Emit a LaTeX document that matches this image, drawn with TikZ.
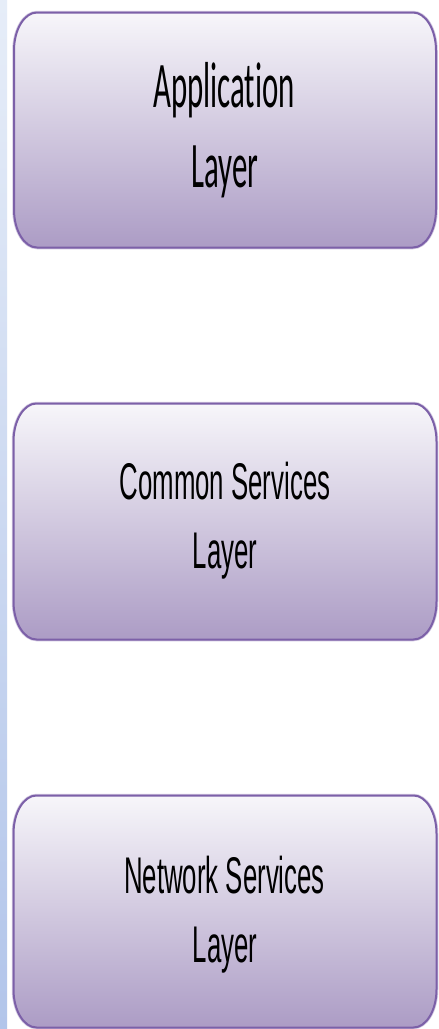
\documentclass[tikz,border=0pt]{standalone}
\usepackage{fontspec}
\setmainfont{Liberation Sans}
\newfontfamily\calfont[Ligatures={NoCommon,NoContextual}]{Carlito}
\definecolor{boxtop}{HTML}{F7F6FA}
\definecolor{boxbot}{HTML}{AC9CC5}
\definecolor{boxline}{HTML}{7C60A8}
\definecolor{striptop}{HTML}{E6EDF8}
\definecolor{stripbot}{HTML}{B2C5EA}
\tikzset{
  layerbox/.style={draw=none, inner sep=0pt, outer sep=0pt},
  boxfill/.style={top color=boxtop, bottom color=boxbot, draw=boxline, line width=2pt},
  boxshadow/.style={draw=boxline!35, line width=3.5pt},
  lineA/.style={inner sep=0pt, anchor=base, xscale=0.475, font=\calfont\fontsize{65}{80}\selectfont},
  lineB/.style={inner sep=0pt, anchor=base, xscale=0.5, font=\fontsize{51.6}{69}\selectfont}
}
\newcommand{\boxpath}[1]{%
  ([xshift=23pt]#1.north west) -- ([xshift=-23pt]#1.north east)
  arc[start angle=90, end angle=0, x radius=23pt, y radius=38pt]
  -- ([yshift=38pt]#1.south east)
  arc[start angle=0, end angle=-90, x radius=23pt, y radius=38pt]
  -- ([xshift=23pt]#1.south west)
  arc[start angle=270, end angle=180, x radius=23pt, y radius=38pt]
  -- ([yshift=-38pt]#1.north west)
  arc[start angle=180, end angle=90, x radius=23pt, y radius=38pt] -- cycle}
\begin{document}
\begin{tikzpicture}[x=1pt, y=1pt]
\useasboundingbox (0,0) rectangle (439,-1029);
\fill[white] (0,0) rectangle (439,-1029);
% left strip
\shade[top color=striptop, bottom color=stripbot] (0,0) rectangle (7,-1029);
% boxes (geometry nodes)
\node[layerbox, minimum width=422pt, minimum height=235pt] (b1) at (225,-130) {};
\node[layerbox, minimum width=423pt, minimum height=236pt] (b2) at (225,-521.5) {};
\node[layerbox, minimum width=423pt, minimum height=232pt] (b3) at (225,-911.5) {};
\foreach \b in {b1,b2,b3}{
  \draw[boxshadow] \boxpath{\b};
  \path[boxfill] \boxpath{\b};
}
% texts
\node[lineA] (t1a) at (224,-107) {Application};
\node[lineA] (t1b) at (225,-187) {Layer};
\node[lineB] (t2a) at (225,-499) {Common Services};
\node[lineB] (t2b) at (225,-568) {Layer};
\node[lineB] (t3a) at (224.5,-893) {Network Services};
\node[lineB] (t3b) at (225,-962) {Layer};
\end{tikzpicture}
\end{document}
